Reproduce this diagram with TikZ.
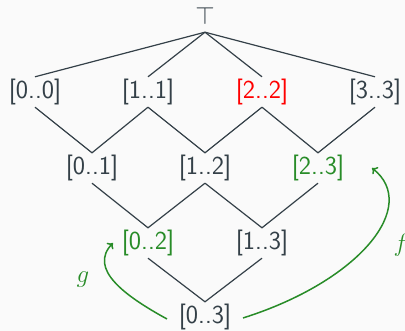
\documentclass[tikz,border=0pt]{standalone}
\usetikzlibrary{arrows.meta}
\definecolor{ink}{RGB}{52,64,72}
\definecolor{grn}{RGB}{40,140,40}
\definecolor{bg}{RGB}{250,250,250}
\begin{document}
\begin{tikzpicture}[x=1pt,y=1pt,
  lbl/.style={inner sep=0pt,minimum height=30pt,text=ink,font=\sffamily\fontsize{26}{30}\selectfont},
  edge/.style={draw=ink,line width=1.2pt},
  arr/.style={draw=grn,line width=1.5pt,-{To[length=5pt,width=9pt]}},
  fn/.style={text=grn,font=\fontsize{24}{28}\selectfont}]
\fill[bg] (0,0) rectangle (405,331);
\useasboundingbox (0,0) rectangle (405,331);
\node[lbl,minimum height=33pt,font=\fontsize{23}{27}\selectfont] (T) at (205,315.5) {$\top$};
\node[lbl] (a00) at (35,239) {[0..0]};
\node[lbl] (a11) at (148,239) {[1..1]};
\node[lbl,text=red] (a22) at (262,239) {[2..2]};
\node[lbl] (a33) at (375,239) {[3..3]};
\node[lbl] (a01) at (92,163) {[0..1]};
\node[lbl] (a12) at (205,163) {[1..2]};
\node[lbl,text=grn] (a23) at (318,163) {[2..3]};
\node[lbl,text=grn] (a02) at (148,88) {[0..2]};
\node[lbl] (a13) at (262,88) {[1..3]};
\node[lbl] (a03) at (205,14) {[0..3]};
\foreach \n in {a00,a11,a22,a33} \draw[edge] (T.south) -- (\n.north);
\draw[edge] (a00.south) -- (a01.north) -- (a11.south);
\draw[edge] (a11.south) -- (a12.north) -- (a22.south);
\draw[edge] (a22.south) -- (a23.north) -- (a33.south);
\draw[edge] (a01.south) -- (a02.north) -- (a12.south);
\draw[edge] (a12.south) -- (a13.north) -- (a23.south);
\draw[edge] (a02.south) -- (a03.north) -- (a13.south);
\coordinate (gs) at (167,12);
\coordinate (ge) at (113,88);
\coordinate (fs) at (243,13);
\coordinate (fe) at (372,163);
\draw[arr] (gs) .. controls (125,35) and (88,62) .. (ge);
\draw[arr] (fs) .. controls (360,50) and (420,125) .. (fe);
\node[fn] (g) at (83,51) {$g$};
\node[fn] (f) at (401,86) {$f$};
\end{tikzpicture}
\end{document}
